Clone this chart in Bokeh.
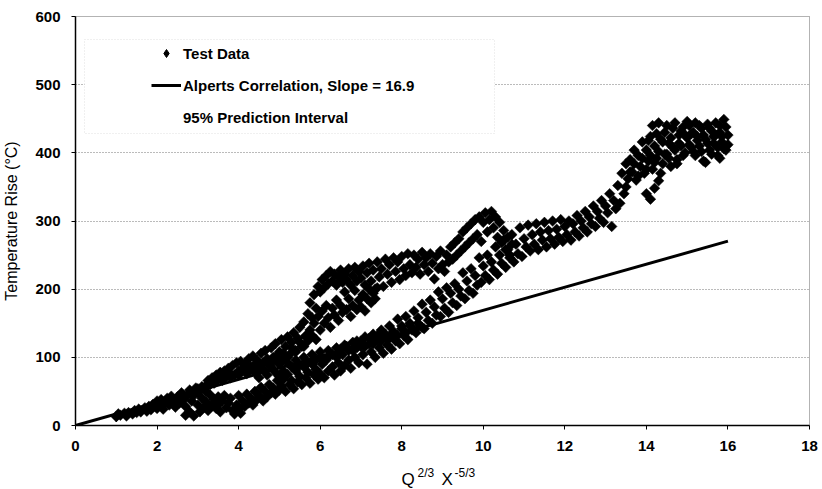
import math
from bokeh.plotting import figure
from bokeh.layouts import column
from bokeh.models import (Legend, LegendItem, Label, BoxAnnotation, FixedTicker,
                          Range1d)
from bokeh.embed import file_html
from bokeh.resources import INLINE

# ---------------- data ----------------
x_ticks = [0, 2, 4, 6, 8, 10, 12, 14, 16, 18]
y_ticks = [0, 100, 200, 300, 400, 500, 600]

alperts_slope = 16.9
alperts_x = [0.0, 16.0]

# test run A: lower main band
run_a = [
    (1.0, 13), (1.05, 17), (1.1, 15), (1.2, 18), (1.25, 14), (1.3, 19), (1.4, 17), (1.45, 22),
    (1.5, 19), (1.55, 24), (1.6, 20), (1.7, 26), (1.75, 21), (1.8, 28), (1.85, 23), (1.9, 31),
    (2.0, 25), (2.0, 36), (2.05, 29), (2.1, 38), (2.15, 24), (2.2, 33), (2.25, 40), (2.3, 30),
    (2.35, 43), (2.4, 35), (2.45, 27), (2.5, 42), (2.55, 33), (2.6, 48), (2.65, 38), (2.7, 28),
    (2.7, 15), (2.75, 45), (2.8, 20), (2.8, 52), (2.85, 36), (2.9, 14), (2.9, 44), (2.95, 55),
    (3.0, 30), (3.0, 48), (3.05, 20), (3.1, 40), (3.1, 57), (3.15, 27), (3.2, 50), (3.2, 35),
    (3.25, 22), (3.3, 45), (3.35, 30), (3.4, 38), (3.45, 25), (3.5, 42), (3.5, 30), (3.55, 20),
    (3.6, 36), (3.65, 44), (3.7, 26), (3.75, 33), (3.8, 40), (3.85, 22), (3.9, 17), (3.95, 30),
    (4.0, 44), (4.0, 24), (4.05, 18), (4.1, 36), (4.15, 28), (4.2, 46), (4.25, 33), (4.3, 40),
    (4.35, 30), (4.4, 50), (4.45, 38), (4.5, 44), (4.55, 56), (4.6, 36), (4.65, 50), (4.7, 42),
    (4.75, 60), (4.8, 48), (4.85, 55), (4.9, 46), (4.95, 66), (5.0, 52), (5.0, 72), (5.05, 58),
    (5.1, 68), (5.15, 50), (5.2, 75), (5.25, 60), (5.3, 66), (5.35, 54), (5.4, 80), (5.45, 64),
    (5.5, 72), (5.55, 60), (5.6, 86), (5.65, 70), (5.7, 78), (5.75, 62), (5.8, 90), (5.85, 74),
    (5.9, 82), (5.95, 68), (6.0, 100), (6.0, 76), (6.05, 90), (6.1, 70), (6.15, 96), (6.2, 80),
    (6.25, 104), (6.3, 86), (6.35, 74), (6.4, 100), (6.45, 92), (6.5, 112), (6.5, 80), (6.55, 104),
    (6.6, 88), (6.65, 116), (6.7, 96), (6.75, 84), (6.8, 110), (6.85, 100), (6.9, 124), (6.95, 92),
    (7.0, 116), (7.05, 104), (7.1, 130), (7.15, 90), (7.2, 120), (7.25, 108), (7.3, 134), (7.35, 100),
    (7.4, 126), (7.45, 114), (7.5, 140), (7.55, 106), (7.6, 130), (7.65, 118), (7.7, 146), (7.75, 112),
    (7.8, 136), (7.85, 124), (7.9, 156), (7.95, 120), (8.0, 146), (8.05, 132), (8.1, 160), (8.15, 126),
    (8.2, 150), (8.25, 140), (8.3, 168), (8.35, 136), (8.4, 158), (8.45, 146), (8.5, 178), (8.55, 142),
    (8.6, 166), (8.65, 154), (8.7, 184), (8.75, 150), (8.8, 174), (8.85, 162), (8.9, 196), (8.95, 160),
    (9.0, 186), (9.05, 172), (9.1, 202), (9.15, 166), (9.2, 194), (9.25, 180), (9.3, 208), (9.35, 176),
    (9.4, 200), (9.45, 190), (9.5, 224), (9.55, 186), (9.6, 212), (9.65, 198), (9.7, 230), (9.75, 194),
    (9.8, 220), (9.85, 206), (9.9, 246), (9.95, 210), (10.0, 234), (10.05, 220), (10.1, 250), (10.15, 214),
    (10.2, 240), (10.25, 228), (10.3, 262), (10.35, 222), (10.4, 250), (10.45, 238), (10.5, 272), (10.55, 232),
    (10.6, 258), (10.65, 246), (10.7, 280), (10.75, 240), (10.8, 266), (10.85, 252), (10.9, 290), (10.95, 248),
    (11.0, 274), (11.05, 262), (11.1, 294), (11.15, 256), (11.2, 280), (11.25, 266), (11.3, 296), (11.35, 258),
    (11.4, 284), (11.45, 272), (11.5, 298), (11.55, 262), (11.6, 286), (11.65, 274), (11.7, 300), (11.75, 266),
    (11.8, 288), (11.85, 276), (11.9, 302), (11.95, 270), (12.0, 292), (12.05, 280), (12.1, 300), (12.15, 272),
    (12.2, 296), (12.25, 284), (12.3, 308), (12.35, 278), (12.4, 300), (12.45, 290), (12.5, 314), (12.55, 284),
    (12.6, 306), (12.65, 296), (12.7, 322), (12.75, 292), (12.8, 314), (12.85, 304), (12.9, 330), (12.95, 298),
    (13.0, 322), (13.05, 312), (13.1, 340), (13.15, 292), (13.2, 330), (13.25, 318), (13.3, 352), (13.35, 326),
    (13.4, 370), (13.45, 340), (13.5, 384), (13.5, 350), (13.55, 362), (13.6, 390), (13.65, 372), (13.7, 404),
    (13.75, 360), (13.8, 396), (13.85, 380), (13.9, 416), (13.95, 370), (14.0, 404), (14.0, 340), (14.05, 388),
    (14.1, 424), (14.1, 332), (14.15, 376), (14.2, 410), (14.2, 348), (14.25, 392), (14.3, 444), (14.3, 359),
    (14.35, 420), (14.4, 384), (14.45, 430), (14.5, 398), (14.55, 414), (14.6, 380), (14.65, 436), (14.7, 404),
    (14.75, 390), (14.8, 426), (14.85, 410), (14.9, 438), (14.95, 400), (15.0, 422), (15.05, 440), (15.1, 408),
    (15.15, 430), (15.2, 396), (15.25, 418), (15.3, 440), (15.35, 402), (15.4, 426), (15.45, 386), (15.5, 414),
    (15.55, 436), (15.6, 398), (15.65, 424), (15.7, 444), (15.75, 408), (15.8, 392), (15.8, 430), (15.85, 416),
    (15.9, 449), (15.95, 404), (16.0, 426), (16.0, 412),
]

# test run B: upper hump
run_b = [
    (3.2, 58), (3.25, 66), (3.3, 60), (3.35, 70), (3.4, 64), (3.45, 74), (3.5, 68), (3.55, 78),
    (3.6, 70), (3.65, 80), (3.7, 72), (3.75, 84), (3.8, 76), (3.85, 88), (3.9, 74), (3.95, 92),
    (4.0, 80), (4.05, 94), (4.1, 84), (4.15, 90), (4.2, 78), (4.25, 98), (4.3, 86), (4.35, 102),
    (4.4, 90), (4.45, 96), (4.5, 84), (4.55, 106), (4.6, 92), (4.65, 110), (4.7, 98), (4.75, 88),
    (4.8, 114), (4.85, 100), (4.9, 120), (4.95, 94), (5.0, 108), (5.05, 126), (5.1, 98), (5.15, 116),
    (5.2, 130), (5.25, 104), (5.3, 122), (5.35, 136), (5.4, 110), (5.45, 128), (5.5, 144), (5.55, 116),
    (5.6, 152), (5.65, 132), (5.7, 164), (5.75, 180), (5.8, 158), (5.85, 192), (5.9, 172), (5.95, 204),
    (6.0, 196), (6.05, 214), (6.1, 202), (6.15, 220), (6.2, 208), (6.25, 226), (6.3, 212), (6.35, 222),
    (6.4, 206), (6.45, 218), (6.5, 228), (6.55, 210), (6.6, 222), (6.65, 214), (6.7, 230), (6.75, 206),
    (6.8, 220), (6.85, 232), (6.9, 212), (6.95, 226), (7.0, 216), (7.05, 234), (7.1, 206), (7.15, 224),
    (7.2, 238), (7.25, 212), (7.3, 228), (7.35, 200), (7.4, 240), (7.45, 218), (7.5, 230), (7.55, 204),
    (7.6, 244), (7.65, 222), (7.7, 236), (7.75, 210), (7.8, 246), (7.85, 226), (7.9, 240), (7.95, 214),
    (8.0, 248), (8.05, 230), (8.1, 220), (8.15, 252), (8.2, 236), (8.25, 224), (8.3, 250), (8.35, 232),
    (8.4, 244), (8.45, 222), (8.5, 254), (8.55, 236), (8.6, 246), (8.65, 226), (8.7, 252), (8.75, 238),
    (8.8, 215), (8.85, 248), (8.9, 230), (8.95, 256), (9.0, 236), (9.05, 226), (9.1, 250), (9.15, 240),
    (9.2, 262), (9.25, 244), (9.3, 268), (9.35, 250), (9.4, 274), (9.45, 256), (9.5, 284), (9.55, 262),
    (9.6, 290), (9.65, 268), (9.7, 296), (9.75, 274), (9.8, 302), (9.85, 280), (9.9, 306), (9.95, 270),
    (10.0, 298), (10.05, 312), (10.1, 284), (10.15, 302), (10.2, 314), (10.25, 290), (10.3, 306), (10.35, 276),
    (10.4, 298), (10.45, 268), (10.5, 286), (10.55, 258), (10.6, 276), (10.65, 250), (10.7, 266),
]

# test run C: middle strand inside the hump
run_c = [
    (4.8, 92), (4.9, 100), (5.0, 96), (5.1, 106), (5.2, 100), (5.3, 114), (5.4, 108), (5.5, 122),
    (5.6, 116), (5.65, 130), (5.7, 124), (5.75, 140), (5.8, 132), (5.85, 150), (5.9, 126), (5.95, 160),
    (6.0, 140), (6.05, 168), (6.1, 150), (6.15, 176), (6.2, 158), (6.25, 144), (6.3, 172), (6.35, 162),
    (6.4, 184), (6.45, 154), (6.5, 176), (6.55, 166), (6.6, 196), (6.65, 170), (6.7, 186), (6.75, 160),
    (6.8, 176), (6.85, 198), (6.9, 170), (6.95, 184), (7.0, 174), (7.05, 192), (7.1, 168), (7.15, 186),
    (7.2, 200), (7.25, 180), (7.3, 194), (7.35, 186), (7.4, 202),
]

# test run D: upper-right cluster
run_d = [
    (13.6, 372), (13.7, 384), (13.8, 366), (13.9, 392), (14.0, 376), (14.05, 418), (14.1, 396), (14.15, 440),
    (14.2, 386), (14.25, 428), (14.3, 402), (14.35, 370), (14.4, 416), (14.45, 398), (14.5, 440), (14.55, 392),
    (14.6, 422), (14.65, 408), (14.7, 444), (14.75, 384), (14.8, 414), (14.85, 432), (14.9, 396), (14.95, 426),
    (15.0, 446), (15.05, 412), (15.1, 428), (15.15, 402), (15.2, 444), (15.25, 424), (15.3, 410), (15.35, 436),
    (15.4, 388), (15.45, 420), (15.5, 442), (15.55, 404), (15.6, 432), (15.65, 414), (15.7, 426), (15.75, 396),
    (15.8, 440), (15.85, 424), (15.9, 406), (15.95, 438),
]

# test run E: points lying on / around the correlation line (x 3.0 - 8.5)
run_e = [
    (3.0, 54), (3.2, 58), (3.4, 62), (3.6, 66), (3.8, 70), (4.0, 74), (4.2, 76),
    (4.4, 78), (4.5, 70), (4.6, 82), (4.7, 74), (4.8, 86), (4.9, 78), (5.0, 90), (5.1, 80),
    (5.2, 92), (5.3, 86), (5.4, 96), (5.5, 88), (5.6, 100), (5.7, 92), (5.8, 104), (5.9, 96),
    (6.0, 108), (6.1, 98), (6.2, 110), (6.3, 104), (6.4, 114), (6.5, 106), (6.6, 118), (6.7, 110),
    (6.8, 122), (6.9, 114), (7.0, 124), (7.1, 116), (7.2, 128), (7.3, 120), (7.4, 132), (7.5, 124),
    (7.6, 134), (7.7, 128), (7.8, 138), (7.9, 132), (8.0, 142), (8.1, 136), (8.2, 146), (8.3, 140),
    (8.4, 150), (8.5, 144),
]

# ---------------- main figure ----------------
FONT = "Liberation Sans"

p = figure(width=822, height=462, output_backend="svg", toolbar_location=None,
           x_range=Range1d(0, 18), y_range=Range1d(0, 600),
           min_border_left=74, min_border_right=13, min_border_top=16, min_border_bottom=37)
p.background_fill_color = "white"
p.border_fill_color = "white"
p.outline_line_color = "#666666"
p.outline_line_dash = "1 1"
p.outline_line_width = 1

p.xgrid.visible = False
p.ygrid.grid_line_color = "#777777"
p.ygrid.grid_line_dash = "1 2"
p.ygrid.grid_line_width = 1

p.xaxis.ticker = FixedTicker(ticks=x_ticks)
p.yaxis.ticker = FixedTicker(ticks=y_ticks)
for ax in (p.xaxis[0], p.yaxis[0]):
    ax.axis_line_color = "black"
    ax.axis_line_width = 1.5
    ax.major_tick_line_color = "black"
    ax.major_tick_out = 4
    ax.major_tick_in = 0
    ax.minor_tick_line_color = None
    ax.major_label_text_font = FONT
    ax.major_label_text_font_size = "15px"
    ax.major_label_text_font_style = "bold"
    ax.major_label_text_color = "black"
p.xaxis.major_label_standoff = 11
p.yaxis.major_label_standoff = 11

p.yaxis.axis_label = "Temperature Rise (°C)"
p.yaxis.axis_label_text_font = FONT
p.yaxis.axis_label_text_font_size = "16px"
p.yaxis.axis_label_text_font_style = "normal"
p.yaxis.axis_label_text_color = "black"
p.yaxis.axis_label_standoff = 12

all_pts = run_a + run_b + run_c + run_d + run_e
data_x = [pt[0] for pt in all_pts]
data_y = [pt[1] for pt in all_pts]

sc = p.scatter(data_x, data_y, marker="square", angle=math.pi / 4, size=7.5,
               fill_color="black", line_color="black", line_width=0.5)

alperts_y = [alperts_slope * v for v in alperts_x]
ln = p.line(alperts_x, alperts_y, line_color="black", line_width=3)

# legend key: a diamond drawn over the first test point (hidden inside it)
sc_key = p.scatter(data_x[:1], data_y[:1], marker="diamond", size=10,
                   fill_color="black", line_color="black")
pi_line = p.line([], [], line_color="#d0d0d0", line_dash="1 3", line_width=1)

# legend frame (white box with faint dotted border)
box = BoxAnnotation(left=9, right=419, top=386, bottom=292,
                    left_units="screen", right_units="screen",
                    top_units="screen", bottom_units="screen",
                    fill_color="white", fill_alpha=1.0,
                    line_color="#999999", line_dash="1 2", line_width=1)
p.add_layout(box)

legend = Legend(items=[
    LegendItem(label="Test Data", renderers=[sc_key]),
    LegendItem(label="Alperts Correlation, Slope = 16.9", renderers=[ln]),
    LegendItem(label="95% Prediction Interval", renderers=[pi_line]),
], location=(71, 293), padding=5, spacing=12, glyph_width=30, glyph_height=20,
   label_height=20, label_standoff=2, border_line_alpha=0, background_fill_alpha=0,
   label_text_font=FONT, label_text_font_size="15px", label_text_font_style="bold",
   label_text_color="black")
p.add_layout(legend)

# ---------------- x-axis title strip (with superscripts) ----------------
t = figure(width=822, height=27, output_backend="svg", toolbar_location=None,
           x_range=Range1d(0, 735), y_range=Range1d(0, 27),
           x_axis_type=None, y_axis_type=None,
           min_border_left=74, min_border_right=13, min_border_top=0, min_border_bottom=0)
t.outline_line_color = None
t.background_fill_color = "white"
t.border_fill_color = "white"

# positions in pixels from the left/bottom of the strip's frame
title_parts = [
    ("Q", 326, 10, "17px"),
    ("2/3", 342, 17, "12px"),
    ("X", 366, 10, "17px"),
    ("-5/3", 379, 17, "12px"),
]
for txt, xx, yy, fs in title_parts:
    t.add_layout(Label(x=xx, y=yy, x_units="screen", y_units="screen", text=txt,
                       text_align="left", text_baseline="alphabetic",
                       text_font=FONT, text_font_size=fs, text_font_style="normal",
                       text_color="black"))

layout = column(p, t, spacing=0)
open("out.html", "w").write(file_html(layout, INLINE))
